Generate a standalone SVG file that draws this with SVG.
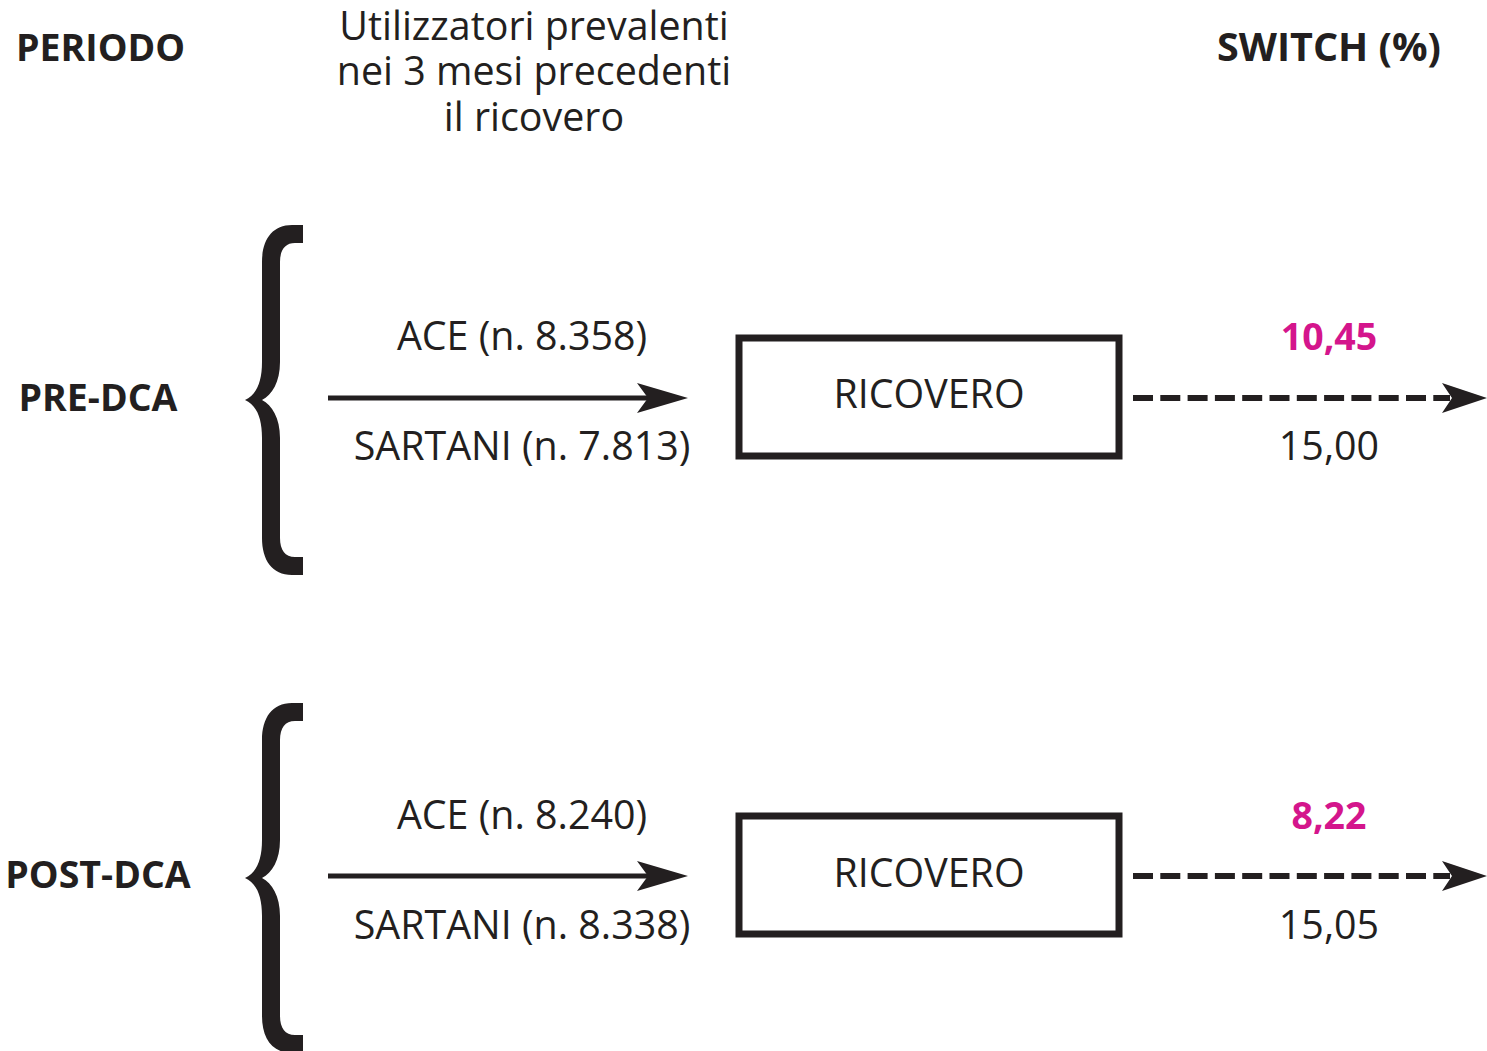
<svg xmlns="http://www.w3.org/2000/svg" width="1487" height="1051" viewBox="0 0 1487 1051">
<style>
text{font-family:"Open Sans","Noto Sans","Liberation Sans",sans-serif;fill:#231f20}
.r{font-size:39.4px}
.b{font-weight:700;font-size:37.5px}
.m{fill:#d4158c}
.box{fill:none;stroke:#231f20;stroke-width:7}
.ln{stroke:#231f20;stroke-width:5;fill:none}
.ds{stroke:#231f20;stroke-width:6;fill:none;stroke-dasharray:20 7.3}
.hd{fill:#231f20}
.br{fill:#231f20}
</style>
<defs>
<path id="brace" d="M303,225 L292,225 C272,225 262,240 262,262 L262,362 C262,383 256,395 245,400 C256,405 262,417 262,438 L262,538 C262,560 272,575 292,575 L303,575 L303,557 L295,557 C285,557 280,550 280,538 L280,438 C280,418 272,405 262,400 C272,395 280,382 280,362 L280,262 C280,250 285,243 295,243 L303,243 Z"/>
</defs>
<g id="headers">
<text class="b" x="16" y="61">PERIODO</text>
<text class="r" text-anchor="middle"><tspan x="534" y="40">Utilizzatori prevalenti</tspan><tspan x="534" y="85">nei 3 mesi precedenti</tspan><tspan x="534" y="131">il ricovero</tspan></text>
<text class="b" x="1329" y="61" text-anchor="middle" style="font-size:39.5px">SWITCH (%)</text>
</g>
<g id="pre-dca">
<text class="b" x="98" y="411" text-anchor="middle">PRE-DCA</text>
<use href="#brace" class="br"/>
</g>
<g id="post-dca">
<text class="b" x="98" y="888" text-anchor="middle">POST-DCA</text>
<use href="#brace" class="br" transform="translate(0,478)"/>
</g>
<g id="connectors">
<line class="ln" x1="328" y1="398" x2="650" y2="398"/>
<polygon class="hd" points="688,398 637,383 648,398 637,413"/>
<line class="ds" x1="1133" y1="398" x2="1450" y2="398"/>
<polygon class="hd" points="1487,398 1442,383 1452,398 1442,413"/>
<line class="ln" x1="328" y1="876" x2="650" y2="876"/>
<polygon class="hd" points="688,876 637,861 648,876 637,891"/>
<line class="ds" x1="1133" y1="876" x2="1450" y2="876"/>
<polygon class="hd" points="1487,876 1442,861 1452,876 1442,891"/>
</g>
<g id="labels-pre">
<text class="r" x="522" y="350" text-anchor="middle">ACE (n. 8.358)</text>
<text class="r" x="522" y="460" text-anchor="middle">SARTANI (n. 7.813)</text>
<text class="b m" x="1329" y="350" text-anchor="middle">10,45</text>
<text class="r" x="1329" y="460" text-anchor="middle">15,00</text>
</g>
<g id="ricovero-pre">
<rect class="box" x="739" y="338" width="380" height="118"/>
<text class="r" x="929" y="408" text-anchor="middle">RICOVERO</text>
</g>
<g id="labels-post">
<text class="r" x="522" y="829" text-anchor="middle">ACE (n. 8.240)</text>
<text class="r" x="522" y="939" text-anchor="middle">SARTANI (n. 8.338)</text>
<text class="b m" x="1329" y="829" text-anchor="middle">8,22</text>
<text class="r" x="1329" y="939" text-anchor="middle">15,05</text>
</g>
<g id="ricovero-post">
<rect class="box" x="739" y="816" width="380" height="118"/>
<text class="r" x="929" y="887" text-anchor="middle">RICOVERO</text>
</g>
</svg>
